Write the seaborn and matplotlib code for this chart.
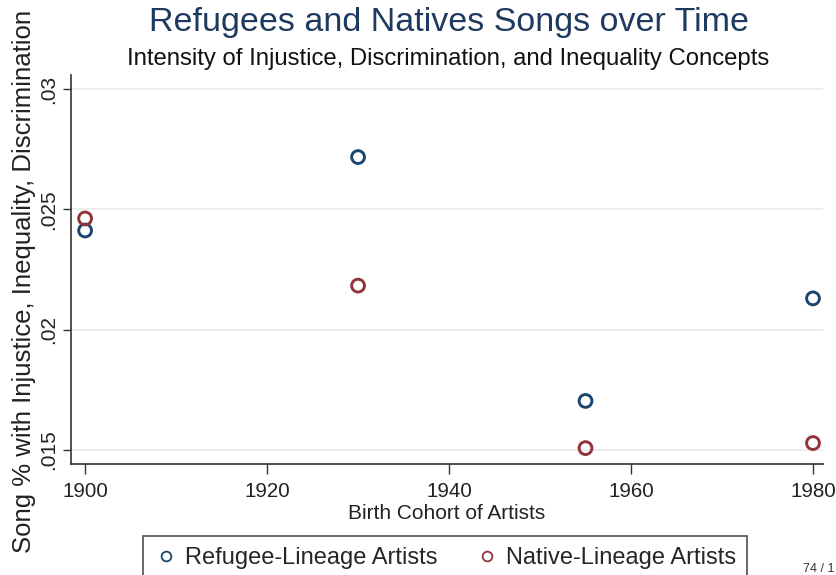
import matplotlib
matplotlib.use("Agg")
import matplotlib.pyplot as plt
from matplotlib.lines import Line2D
import seaborn as sns
import pandas as pd

# Data
cohorts = [1900, 1930, 1955, 1980]
refugee = [0.02412, 0.02717, 0.01704, 0.02130]
native = [0.02462, 0.02183, 0.01508, 0.01529]
series_names = ["Refugee-Lineage Artists", "Native-Lineage Artists"]
y_ticks = [0.015, 0.02, 0.025, 0.03]
y_tick_labels = [".015", ".02", ".025", ".03"]
x_ticks = [1900, 1920, 1940, 1960, 1980]

colors = ["#1a476f", "#90353b"]

df = pd.DataFrame({
    "cohort": cohorts * 2,
    "value": refugee + native,
    "group": [series_names[0]] * len(cohorts) + [series_names[1]] * len(cohorts),
})

sns.set_theme(style="white")
plt.rcParams["font.family"] = ["Liberation Sans", "DejaVu Sans"]

fig = plt.figure(figsize=(8.36, 5.75), dpi=100)
ax = fig.add_axes([71 / 836, 1 - 464 / 575, (823 - 71) / 836, (464 - 75) / 575])

for name, col in zip(series_names, colors):
    sub = df[df["group"] == name]
    sns.scatterplot(data=sub, x="cohort", y="value", ax=ax, color=col,
                    s=85, legend=False, zorder=3)
    coll = ax.collections[-1]
    coll.set_facecolor("none")
    coll.set_edgecolor(col)
    coll.set_linewidth(2.1)

ax.set_xlim(1898.45, 1981.1)
ax.set_ylim(0.01442, 0.03058)
ax.set_xticks(x_ticks)
ax.set_xticklabels([str(t) for t in x_ticks], fontsize=14.8, color="#222222")
ax.set_yticks(y_ticks)
ax.set_yticklabels(y_tick_labels, fontsize=15, color="#222222", rotation=90, va="center")

ax.grid(axis="y", color="#eaeaea", linewidth=1.2)
ax.grid(axis="x", visible=False)
for s in ["top", "right"]:
    ax.spines[s].set_visible(False)
for s in ["left", "bottom"]:
    ax.spines[s].set_color("#333333")
    ax.spines[s].set_linewidth(1.2)
ax.tick_params(axis="x", direction="out", length=7, width=1, color="#333333",
               bottom=True, pad=6)
ax.tick_params(axis="y", direction="out", length=6, width=1, color="#333333",
               left=True, pad=3)

ax.set_xlabel("")
ax.set_ylabel("")
fig.text(447 / 836, 1 - 519 / 575, "Birth Cohort of Artists", fontsize=15,
         color="#222222", ha="center", va="baseline")
fig.text(24 / 836, 1 - 281 / 575, "Song % with Injustice, Inequality, Discrimination",
         fontsize=18.5, color="#222222", rotation=90, ha="center", va="center")

fig.text(449 / 836, 1 - 22 / 575, "Refugees and Natives Songs over Time",
         fontsize=24.5, color="#1f3a5f", ha="center", va="center")
fig.text(448 / 836, 1 - 59 / 575,
         "Intensity of Injustice, Discrimination, and Inequality Concepts",
         fontsize=17.2, color="#111111", ha="center", va="center")

handles = [Line2D([0], [0], marker="o", linestyle="none", markersize=7,
                  markerfacecolor="none", markeredgecolor=c, markeredgewidth=1.3)
           for c in colors]
leg = fig.legend(handles, series_names, loc="center",
                 bbox_to_anchor=(445 / 836, 1 - 558 / 575), ncol=2,
                 fontsize=17, frameon=True, fancybox=False, handletextpad=0.3,
                 columnspacing=1.6, borderpad=0.45, handlelength=1.0)
leg.get_frame().set_edgecolor("#222222")
leg.get_frame().set_linewidth(1.2)

fig.text(803 / 836, 1 - 569 / 575, "74 / 1", fontsize=9, color="#333333",
         ha="left", va="center")

fig.savefig("out.png", dpi=100)
